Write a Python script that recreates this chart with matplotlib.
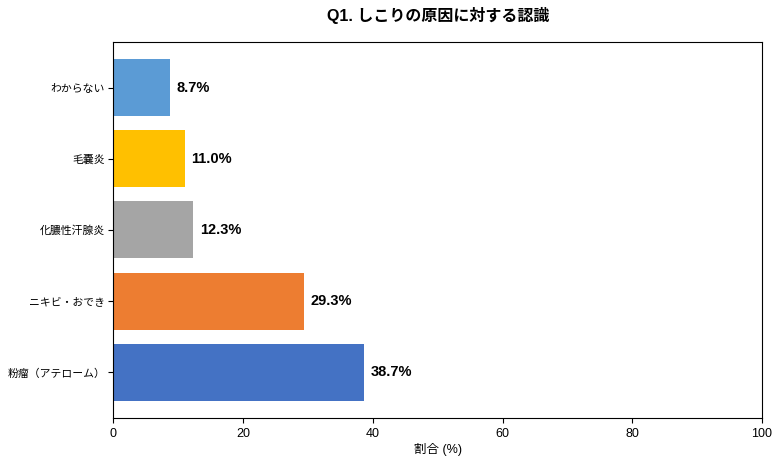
import matplotlib
matplotlib.use("Agg")
import matplotlib.pyplot as plt

plt.rcParams['font.family'] = ['Liberation Sans', 'Noto Sans CJK JP', 'DejaVu Sans']

categories = ["粉瘤（アテローム）", "ニキビ・おでき", "化膿性汗腺炎", "毛嚢炎", "わからない"]
values = [38.7, 29.3, 12.3, 11.0, 8.7]
colors = ["#4472C4", "#ED7D31", "#A5A5A5", "#FFC000", "#5B9BD5"]
xticks = [0, 20, 40, 60, 80, 100]

fig = plt.figure(figsize=(7.8, 4.62), dpi=100)
ax = fig.add_axes([0.1455, 0.0952, 0.8315, 0.814])
bars = ax.barh(categories, values, color=colors, height=0.8)
for b, v in zip(bars, values):
    ax.text(v + 1.0, b.get_y() + b.get_height() / 2, f"{v:.1f}%",
            va="center", ha="left", fontsize=10.5, fontweight="bold")
ax.set_xlim(0, 100)
ax.set_xticks(xticks)
ax.tick_params(axis="y", labelsize=7.8, pad=2.5)
ax.tick_params(axis="x", labelsize=9)
ax.set_xlabel("割合 (%)", fontsize=9, labelpad=2)
ax.set_title("Q1. しこりの原因に対する認識", fontsize=11.5, fontweight="bold", pad=15)
fig.savefig("out.png", dpi=100)
